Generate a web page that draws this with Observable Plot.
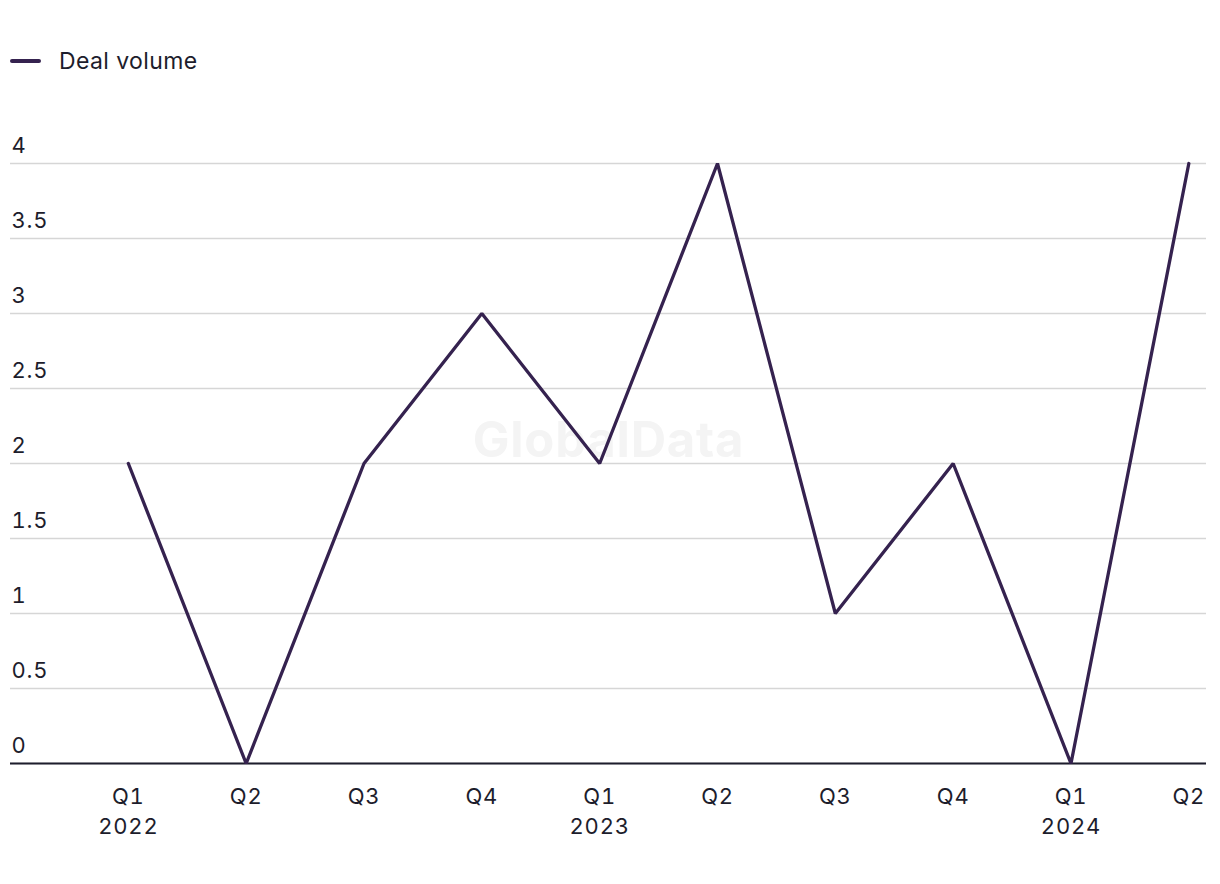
<!DOCTYPE html>
<html>
<head>
<meta charset="utf-8">
<script src="https://cdn.jsdelivr.net/npm/d3@7"></script>
<script src="https://cdn.jsdelivr.net/npm/@observablehq/plot@0.6"></script>
<style>
  body { margin: 0; background: #fff; font-family: Inter, "Liberation Sans", Arial, sans-serif; color: #1d1d2c; }
  #legend { height: 100px; position: relative; }
  #legend .sw { position: absolute; left: 10px; top: 59px; width: 31px; height: 4px; background: #35224f; border-radius: 2px; }
  #legend .lb { position: absolute; left: 59px; top: 46px; font-size: 23px; line-height: 30px; letter-spacing: 0.4px; }
</style>
</head>
<body>
<div id="legend"><span class="sw"></span><span class="lb">Deal volume</span></div>
<div id="chart"></div>
<script>
const quarters = ["Q1", "Q2", "Q3", "Q4", "Q1", "Q2", "Q3", "Q4", "Q1", "Q2"];
const years = ["2022", "", "", "", "2023", "", "", "", "2024", ""];
const dealVolume = [2, 0, 2, 3, 2, 4, 1, 2, 0, 4];
const yTicks = [0, 0.5, 1, 1.5, 2, 2.5, 3, 3.5, 4];

const data = dealVolume.map((v, i) => ({i, v}));
const xTicks = quarters.map((q, i) => i);

const chart = Plot.plot({
  width: 1220,
  height: 784,
  marginLeft: 10,
  marginRight: 14,
  marginTop: 63,
  marginBottom: 121,
  style: {fontFamily: 'Inter, "Liberation Sans", Arial, sans-serif', fontSize: "22px", color: "#1d1d2c", background: "#fff", letterSpacing: "0.8px"},
  x: {type: "linear", domain: [-1, 9.15]},
  y: {domain: [0, 4]},
  marks: [
    Plot.gridY(yTicks, {stroke: "#d6d6d6", strokeOpacity: 1, strokeWidth: 1.5}),
    Plot.axisY(yTicks, {anchor: "left", tickSize: 0, textAnchor: "start", dx: 10, dy: -18, tickFormat: d => String(d), label: null, fontSize: 22, fill: "#1d1d2c"}),
    Plot.text(["GlobalData"], {frameAnchor: "middle", dy: -22, fontSize: 49, fontWeight: "bold", fill: "#f4f4f4", letterSpacing: "0px"}),
    Plot.ruleY([0], {stroke: "#1d1d2c", strokeWidth: 2}),
    Plot.axisX(xTicks, {tickSize: 0, tickPadding: 19, tickFormat: i => years[i] ? quarters[i] + "\n" + years[i] : quarters[i], label: null, fontSize: 22, lineHeight: 1.36, fill: "#1d1d2c", textAnchor: "middle", lineAnchor: "top"}),
    Plot.line(data, {x: "i", y: "v", stroke: "#35224f", strokeWidth: 3.3, strokeLinejoin: "miter"})
  ]
});
document.getElementById("chart").appendChild(chart);
</script>
</body>
</html>
